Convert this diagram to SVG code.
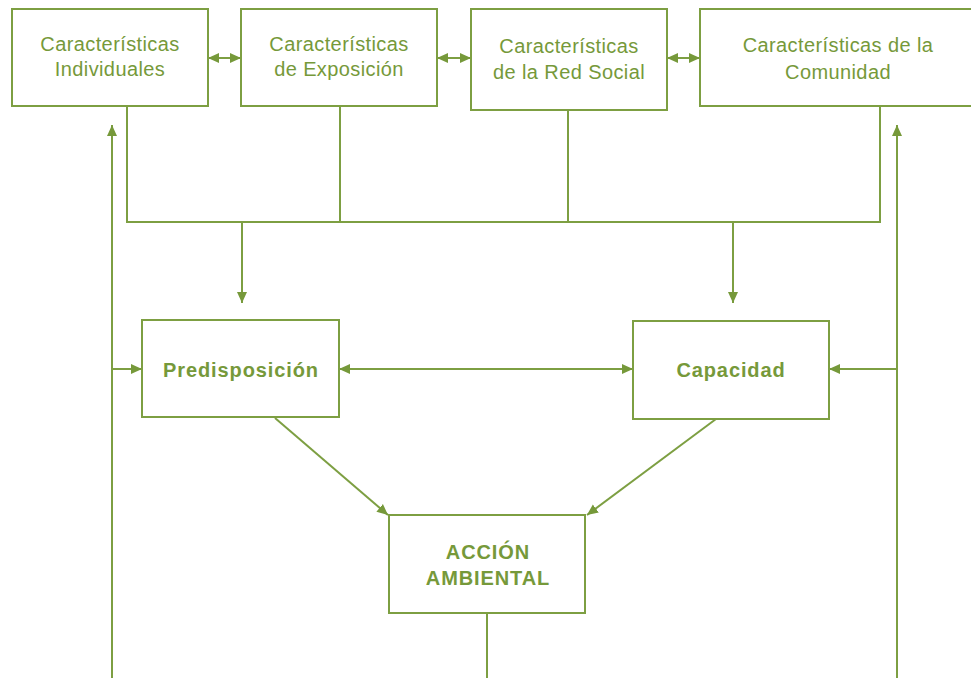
<svg xmlns="http://www.w3.org/2000/svg" width="971" height="678" viewBox="0 0 971 678">
  <defs>
    <marker id="arrow" viewBox="0 0 12 12" refX="11" refY="6" markerWidth="12" markerHeight="12" markerUnits="userSpaceOnUse" orient="auto-start-reverse">
      <path d="M0,1 L11,6 L0,11 Z" fill="#76993a"/>
    </marker>
    <style>
      .box { fill: #ffffff; stroke: #7d9f42; stroke-width: 2; }
      .line { fill: none; stroke: #7d9f42; stroke-width: 2; }
      .lbl { font-family: "Liberation Sans", Arial, Helvetica, sans-serif; font-size: 20px; fill: #76993a; text-anchor: middle; letter-spacing: 0.4px; }
      .bold { font-weight: bold; letter-spacing: 0.9px; }
    </style>
  </defs>
  <rect width="971" height="678" fill="#ffffff"/>

  <!-- connectors -->
  <g id="connectors">
    <!-- links between the top boxes -->
    <line class="line" x1="208" y1="58" x2="241" y2="58" marker-start="url(#arrow)" marker-end="url(#arrow)"/>
    <line class="line" x1="437" y1="58" x2="471" y2="58" marker-start="url(#arrow)" marker-end="url(#arrow)"/>
    <line class="line" x1="667" y1="58" x2="700" y2="58" marker-start="url(#arrow)" marker-end="url(#arrow)"/>
    <!-- collector bus under the top row -->
    <polyline class="line" points="127,107 127,222 880,222 880,107"/>
    <line class="line" x1="340" y1="107" x2="340" y2="222"/>
    <line class="line" x1="568" y1="110" x2="568" y2="222"/>
    <line class="line" x1="242" y1="222" x2="242" y2="303" marker-end="url(#arrow)"/>
    <line class="line" x1="733" y1="222" x2="733" y2="303" marker-end="url(#arrow)"/>
    <!-- feedback loops -->
    <line class="line" x1="112" y1="678" x2="112" y2="125" marker-end="url(#arrow)"/>
    <line class="line" x1="897" y1="678" x2="897" y2="125" marker-end="url(#arrow)"/>
    <line class="line" x1="112" y1="369" x2="142" y2="369" marker-end="url(#arrow)"/>
    <line class="line" x1="897" y1="369" x2="829" y2="369" marker-end="url(#arrow)"/>
    <!-- between the two middle boxes -->
    <line class="line" x1="339" y1="369" x2="633" y2="369" marker-start="url(#arrow)" marker-end="url(#arrow)"/>
    <!-- into the action box -->
    <line class="line" x1="275" y1="418" x2="388" y2="515" marker-end="url(#arrow)"/>
    <line class="line" x1="716" y1="419" x2="587" y2="515" marker-end="url(#arrow)"/>
    <line class="line" x1="487" y1="613" x2="487" y2="678"/>
  </g>

  <g id="individuales">
    <rect class="box" x="12" y="9" width="196" height="97"/>
    <text class="lbl" x="110" y="51">Características</text>
    <text class="lbl" x="110" y="76">Individuales</text>
  </g>
  <g id="exposicion">
    <rect class="box" x="241" y="9" width="196" height="97"/>
    <text class="lbl" x="339" y="51">Características</text>
    <text class="lbl" x="339" y="76">de Exposición</text>
  </g>
  <g id="red-social">
    <rect class="box" x="471" y="9" width="196" height="101"/>
    <text class="lbl" x="569" y="53">Características</text>
    <text class="lbl" x="569" y="79">de la Red Social</text>
  </g>
  <g id="comunidad">
    <rect class="box" x="700" y="9" width="278" height="97"/>
    <text class="lbl" x="838" y="52">Características de la</text>
    <text class="lbl" x="838" y="79">Comunidad</text>
  </g>
  <g id="predisposicion">
    <rect class="box" x="142" y="320" width="197" height="97"/>
    <text class="lbl bold" x="241" y="377">Predisposición</text>
  </g>
  <g id="capacidad">
    <rect class="box" x="633" y="321" width="196" height="98"/>
    <text class="lbl bold" x="731" y="377">Capacidad</text>
  </g>
  <g id="accion-ambiental">
    <rect class="box" x="389" y="515" width="196" height="98"/>
    <text class="lbl bold" x="488" y="559">ACCIÓN</text>
    <text class="lbl bold" x="488" y="585">AMBIENTAL</text>
  </g>
</svg>
